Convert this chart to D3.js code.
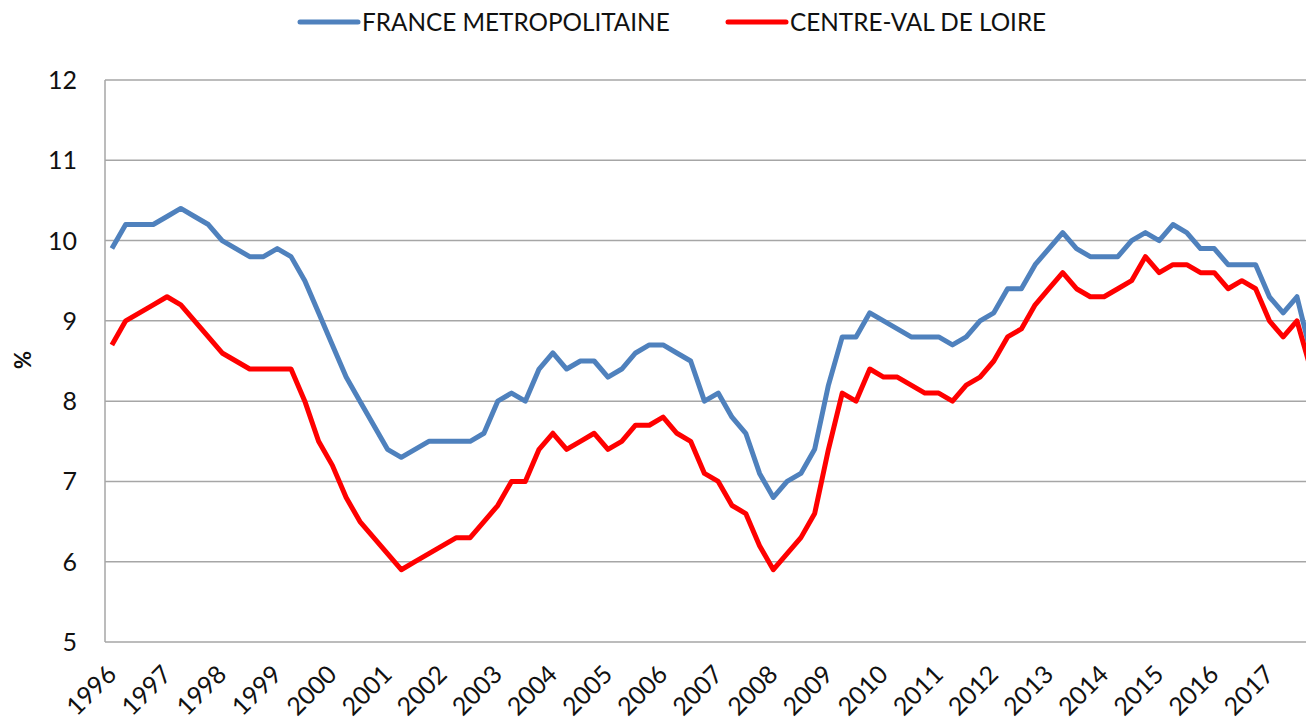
<!DOCTYPE html>
<meta charset="utf-8">
<html>
<head>
  <title>Taux de chomage</title>
  <style>
    body { margin: 0; background: #fff; }
    svg { display: block; font-family: Lato, "Open Sans", sans-serif; }
    .grid line { stroke: #a6a6a6; stroke-width: 1.5; }
    .tick-label { font-size: 25px; fill: #111; }
    .legend-label { font-size: 24.3px; fill: #111; }
  </style>
</head>
<body>
<svg id="chart" width="1306" height="720"></svg>

<script src="https://d3js.org/d3.v7.min.js"></script>
<script>

// quarterly values, 1996 Q1 .. 2017 Q4
const years = d3.range(1996, 2018);
const quarters = years.flatMap(y => [1, 2, 3, 4].map(q => y + "T" + q));

const franceMetro = [
  9.9, 10.2, 10.2, 10.2, 10.3, 10.4, 10.3, 10.2,
  10.0, 9.9, 9.8, 9.8, 9.9, 9.8, 9.5, 9.1,
  8.7, 8.3, 8.0, 7.7, 7.4, 7.3, 7.4, 7.5,
  7.5, 7.5, 7.5, 7.6, 8.0, 8.1, 8.0, 8.4,
  8.6, 8.4, 8.5, 8.5, 8.3, 8.4, 8.6, 8.7,
  8.7, 8.6, 8.5, 8.0, 8.1, 7.8, 7.6, 7.1,
  6.8, 7.0, 7.1, 7.4, 8.2, 8.8, 8.8, 9.1,
  9.0, 8.9, 8.8, 8.8, 8.8, 8.7, 8.8, 9.0,
  9.1, 9.4, 9.4, 9.7, 9.9, 10.1, 9.9, 9.8,
  9.8, 9.8, 10.0, 10.1, 10.0, 10.2, 10.1, 9.9,
  9.9, 9.7, 9.7, 9.7, 9.3, 9.1, 9.3, 8.6
];

const centreVal = [
  8.7, 9.0, 9.1, 9.2, 9.3, 9.2, 9.0, 8.8,
  8.6, 8.5, 8.4, 8.4, 8.4, 8.4, 8.0, 7.5,
  7.2, 6.8, 6.5, 6.3, 6.1, 5.9, 6.0, 6.1,
  6.2, 6.3, 6.3, 6.5, 6.7, 7.0, 7.0, 7.4,
  7.6, 7.4, 7.5, 7.6, 7.4, 7.5, 7.7, 7.7,
  7.8, 7.6, 7.5, 7.1, 7.0, 6.7, 6.6, 6.2,
  5.9, 6.1, 6.3, 6.6, 7.4, 8.1, 8.0, 8.4,
  8.3, 8.3, 8.2, 8.1, 8.1, 8.0, 8.2, 8.3,
  8.5, 8.8, 8.9, 9.2, 9.4, 9.6, 9.4, 9.3,
  9.3, 9.4, 9.5, 9.8, 9.6, 9.7, 9.7, 9.6,
  9.6, 9.4, 9.5, 9.4, 9.0, 8.8, 9.0, 8.4
];

const yTicks = [5, 6, 7, 8, 9, 10, 11, 12];
const seriesNames = ["FRANCE METROPOLITAINE", "CENTRE-VAL DE LOIRE"];
const seriesColors = ["#4f81bd", "#ff0000"];

const svg = d3.select("#chart");

const plotLeft = 105, plotTop = 80, plotBottom = 642;
const step = 13.78;
const plotRight = plotLeft + quarters.length * step; // runs past the right edge, as in the source

const x = d3.scaleBand()
  .domain(quarters)
  .range([plotLeft, plotRight])
  .paddingInner(0).paddingOuter(0);

const y = d3.scaleLinear()
  .domain([5, 12])
  .range([plotBottom, plotTop]);

const cx = q => x(q) + x.bandwidth() / 2;

// gridlines
svg.append("g").attr("class", "grid")
  .selectAll("line")
  .data(yTicks)
  .join("line")
  .attr("x1", plotLeft)
  .attr("x2", plotRight)
  .attr("y1", d => y(d))
  .attr("y2", d => y(d));

// left axis line
svg.append("line")
  .attr("x1", plotLeft).attr("x2", plotLeft)
  .attr("y1", plotTop).attr("y2", plotBottom)
  .attr("stroke", "#a6a6a6").attr("stroke-width", 1.5);

// y tick labels
svg.append("g")
  .selectAll("text")
  .data(yTicks)
  .join("text")
  .attr("class", "tick-label")
  .attr("x", 77)
  .attr("y", d => y(d))
  .attr("dy", "0.36em")
  .attr("text-anchor", "end")
  .text(d => d);

// y axis title
svg.append("text")
  .attr("transform", "translate(31,360) rotate(-90)")
  .attr("text-anchor", "middle")
  .attr("font-size", 22)
  .attr("font-weight", "bold")
  .attr("fill", "#111")
  .text("%");

// year labels, one per first quarter
svg.append("g")
  .selectAll("text")
  .data(years)
  .join("text")
  .attr("class", "tick-label")
  .attr("text-anchor", "end")
  .attr("transform", d => `translate(${cx(d + "T1") + 6},676) rotate(-45)`)
  .text(d => d);

// lines
const line = d3.line()
  .x((d, i) => cx(quarters[i]))
  .y(d => y(d));

[franceMetro, centreVal].forEach((vals, k) => {
  svg.append("path")
    .datum(vals)
    .attr("fill", "none")
    .attr("stroke", seriesColors[k])
    .attr("stroke-width", 5)
    .attr("stroke-linejoin", "round")
    .attr("d", line);
});

// legend
const legendX = [300, 728];
const legend = svg.append("g")
  .selectAll("g")
  .data(seriesNames)
  .join("g")
  .attr("transform", (d, i) => `translate(${legendX[i]},22)`);

legend.append("line")
  .attr("x1", 0).attr("x2", 58)
  .attr("y1", 0).attr("y2", 0)
  .attr("stroke", (d, i) => seriesColors[i])
  .attr("stroke-width", 5)
  .attr("stroke-linecap", "round");

legend.append("text")
  .attr("class", "legend-label")
  .attr("x", 62)
  .attr("dy", "0.36em")
  .text(d => d);

</script>
</body>
</html>
